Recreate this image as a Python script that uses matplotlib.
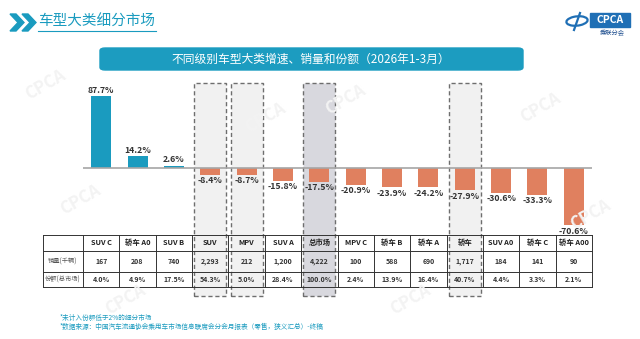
import matplotlib
matplotlib.use("Agg")
import matplotlib.pyplot as plt
from matplotlib.patches import Rectangle, FancyBboxPatch, Polygon, Ellipse
from matplotlib.transforms import blended_transform_factory

plt.rcParams['font.family'] = ['Noto Sans CJK SC', 'DejaVu Sans']

# data
categories = ['SUV C', '轿车 A0', 'SUV B', 'SUV', 'MPV', 'SUV A', '总市场', 'MPV C',
              '轿车 B', '轿车 A', '轿车', 'SUV A0', '轿车 C', '轿车 A00']
growth = [87.7, 14.2, 2.6, -8.4, -8.7, -15.8, -17.5, -20.9, -23.9, -24.2, -27.9, -30.6, -33.3, -70.6]
sales = ['167', '208', '740', '2,293', '212', '1,200', '4,222', '100', '588', '690', '1,717', '184', '141', '90']
share = ['4.0%', '4.9%', '17.5%', '54.3%', '5.0%', '28.4%', '100.0%', '2.4%', '13.9%', '16.4%',
         '40.7%', '4.4%', '3.3%', '2.1%']
row_labels = ['销量(千辆)', '份额(总市场)']
highlight = ['SUV', 'MPV', '轿车']
total_cat = '总市场'

TEAL = '#1a9bbf'
SALMON = '#e0805f'
W, H = 640, 339


def fy(px):
    # pixel row -> figure fraction
    return 1 - px / H


fig = plt.figure(figsize=(6.4, 3.39), dpi=100)

# header
fig.text(38 / W, fy(22), '车型大类细分市场', color=TEAL, fontsize=10.5, va='center', ha='left')
fig.add_artist(plt.Line2D([38 / W, 156 / W], [fy(31), fy(31)], color=TEAL, lw=0.8))
for x0 in (10, 22):
    fig.add_artist(Polygon([[x0 / W, fy(14)], [(x0 + 6) / W, fy(14)], [(x0 + 14) / W, fy(22.5)],
                            [(x0 + 6) / W, fy(31)], [x0 / W, fy(31)], [(x0 + 8) / W, fy(22.5)]],
                           closed=True, color=TEAL, transform=fig.transFigure))

# logo
fig.add_artist(Ellipse((577 / W, fy(21)), 22 / W, 9 / H, angle=25, fill=False, edgecolor='#1f6fb5',
                       lw=1.6, transform=fig.transFigure))
fig.add_artist(plt.Line2D([574 / W, 580 / W], [fy(30), fy(13)], color='#1f6fb5', lw=1.6))
fig.add_artist(Rectangle((590 / W, fy(27)), 40 / W, 14 / H, color='#1f6fb5', transform=fig.transFigure))
fig.text(610 / W, fy(20), 'CPCA', color='white', fontsize=7.5, fontweight='bold', style='italic',
         ha='center', va='center')
fig.text(612 / W, fy(33), '乘联分会', color='#1f4f8f', fontsize=4.5, ha='center', va='center')

# subtitle box
fig.add_artist(FancyBboxPatch((100 / W, fy(70)), 423 / W, 22 / H,
                              boxstyle='round,pad=0,rounding_size=0.008', color='#1c9cc0',
                              transform=fig.transFigure))
fig.text(311 / W, fy(59), '不同级别车型大类增速、销量和份额（2026年1-3月）', color='white',
         fontsize=8.5, ha='center', va='center')

# faint watermarks
for (x, y) in [(45, 85), (80, 200), (265, 118), (345, 100), (540, 108), (590, 215),
               (125, 300), (410, 300)]:
    fig.text(x / W, fy(y), 'CPCA', color='#f3f3f3', fontsize=12, fontweight='bold',
             style='italic', rotation=30, ha='center', va='center', zorder=0)

# chart axes
y_top_px, y_bot_px, zero_px, scale = 80, 300, 167.7, 0.817
ax = fig.add_axes([83 / W, fy(y_bot_px), (592 - 83) / W, (y_bot_px - y_top_px) / H])
ax.set_xlim(-0.5, len(categories) - 0.5)
ax.set_ylim(-(y_bot_px - zero_px) / scale, (zero_px - y_top_px) / scale)
ax.axis('off')
ax.patch.set_alpha(0)

colors = [TEAL if g > 0 else SALMON for g in growth]
ax.bar(range(len(categories)), growth, width=0.55, color=colors, zorder=3)
ax.axhline(0, color='#a6a6a6', lw=1.2, zorder=4)
for i, g in enumerate(growth):
    off = 1.5 if g > 0 else -1.8
    ax.text(i, g + off, f'{g:.1f}%', ha='center', va='bottom' if g > 0 else 'top',
            fontsize=6.3, fontweight='bold', color='#333333', zorder=5)

# highlight boxes
tr = blended_transform_factory(ax.transData, fig.transFigure)
for i, c in enumerate(categories):
    if c in highlight or c == total_cat:
        face = '#d8d8de' if c == total_cat else '#f1f1f1'
        ax.add_patch(Rectangle((i - 0.44, fy(296)), 0.88, (296 - 83) / H, transform=tr,
                               facecolor=face, edgecolor='#6e6e6e', lw=1.0, ls=(0, (3, 2)),
                               zorder=1, clip_on=False))

# table
x_left = -0.5 - (83 - 43) / ((592 - 83) / len(categories))
x_right = len(categories) - 0.5
rows_px = [234.5, 251, 272, 287]
for yp in rows_px:
    ax.plot([x_left, x_right], [fy(yp), fy(yp)], transform=tr, color='#333333', lw=0.7,
            clip_on=False, zorder=6)
for xv in [x_left] + [k - 0.5 for k in range(len(categories) + 1)]:
    ax.plot([xv, xv], [fy(rows_px[0]), fy(rows_px[-1])], transform=tr, color='#333333', lw=0.7,
            clip_on=False, zorder=6)
for i in range(len(categories)):
    ax.text(i, fy(242.5), categories[i], transform=tr, ha='center', va='center', fontsize=5.3,
            fontweight='bold', color='#222222', zorder=7)
    ax.text(i, fy(261.5), sales[i], transform=tr, ha='center', va='center', fontsize=5,
            fontweight='bold', color='#333333', zorder=7)
    ax.text(i, fy(279.5), share[i], transform=tr, ha='center', va='center', fontsize=5,
            fontweight='bold', color='#333333', zorder=7)
x_lab = (x_left - 0.5) / 2
ax.text(x_lab, fy(261.5), row_labels[0], transform=tr, ha='center', va='center', fontsize=4.5,
        color='#555555', zorder=7)
ax.text(x_lab, fy(279.5), row_labels[1], transform=tr, ha='center', va='center', fontsize=4.5,
        color='#555555', zorder=7)

# footnotes
fig.text(60 / W, fy(318), '*未计入份额低于2%的细分市场', color=TEAL, fontsize=4.8, va='center')
fig.text(60 / W, fy(327), '*数据来源：中国汽车流通协会乘用车市场信息联席会分会月报表（零售，狭义汇总）-终稿',
         color=TEAL, fontsize=4.8, va='center')

fig.savefig('out.png', dpi=100)
